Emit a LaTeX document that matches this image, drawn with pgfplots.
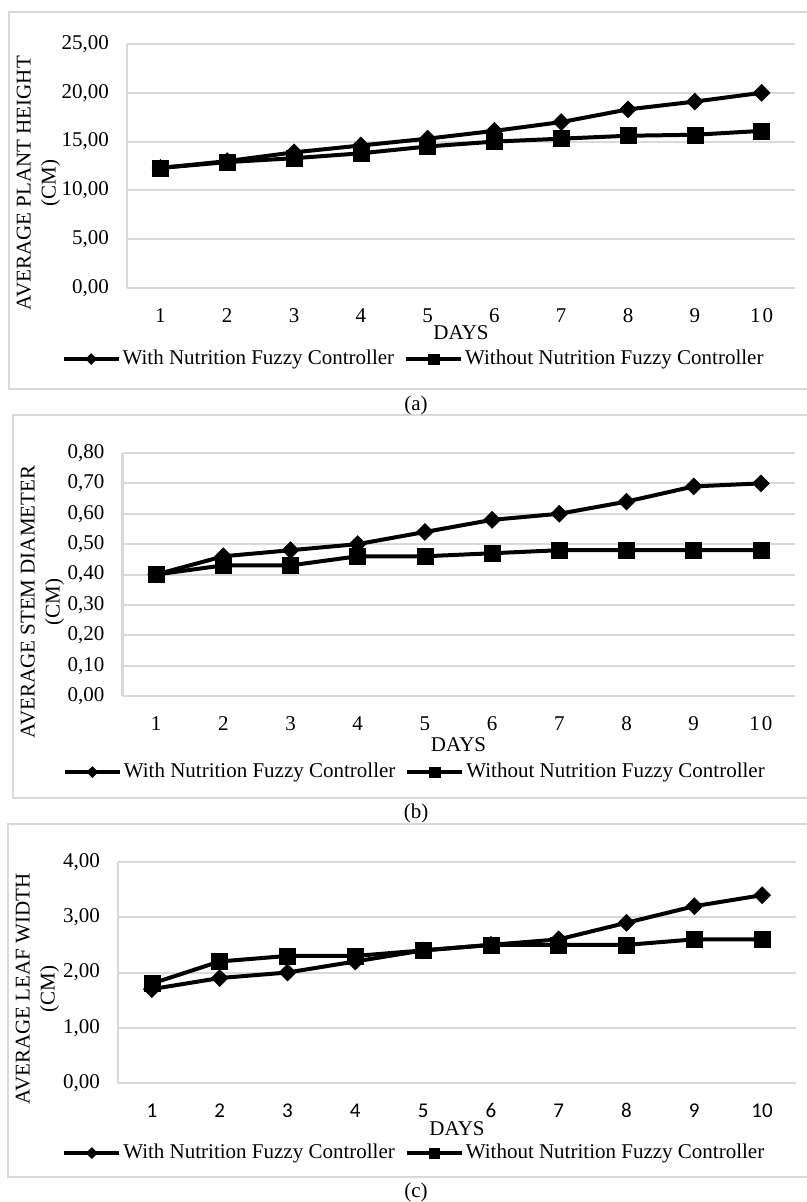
\documentclass[border=0pt]{standalone}
\usepackage{fontspec}
\setmainfont{Liberation Serif}
\newfontfamily\carlito{Carlito}
\usepackage{pgfplots}
\pgfplotsset{compat=1.18}
\definecolor{gridgray}{HTML}{D9D9D9}
\pgfplotsset{
  panel/.style={
    scale only axis,
    xmin=0.5, xmax=10.5,
    xtick={1,2,3,4,5,6,7,8,9,10},
    ymajorgrids,
    major grid style={draw=gridgray, line width=2bp},
    axis lines*=left,
    axis line style={draw=gridgray, line width=2bp},
    x axis line style={draw=none},
    tick style={draw=none},
    major tick length=0pt,
    yticklabel style={/pgf/number format/.cd, fixed, fixed zerofill, precision=2, use comma, assume math mode=true, /tikz/.cd, xshift=-11bp},
    xticklabel style={anchor=base, yshift=-34bp},
    clip=false,
    legend columns=2,
    legend style={draw=none, fill=none, font=\fontsize{21bp}{25bp}\selectfont, /tikz/every even column/.append style={column sep=8bp}},
    legend image code/.code={
      \draw[mark repeat=2, mark phase=2, #1, every mark/.append style={scale=0.65}] plot coordinates {(0bp,0bp) (27.5bp,0bp) (55bp,0bp)};
    },
    xlabel=DAYS,
    ylabel style={align=center, font=\fontsize{21bp}{25bp}\selectfont},
  },
  with/.style={black, line width=4bp, mark=square*, mark size=6bp, mark options={rotate=45, solid, fill=black, line width=0.5bp}},
  without/.style={black, line width=4bp, mark=square*, mark size=8bp, mark options={solid, fill=black, line width=0.5bp}},
}
\begin{document}
\fontsize{21bp}{25bp}\selectfont
\begin{tikzpicture}
\useasboundingbox (0,0) rectangle (807bp,-1202bp);
\draw[gridgray, line width=2bp] (9bp,-12bp) rectangle (815bp,-389bp);
\draw[gridgray, line width=2bp] (13bp,-415bp) rectangle (815bp,-798bp);
\draw[gridgray, line width=2bp] (8bp,-824bp) rectangle (815bp,-1177bp);
\node at (416bp,-405bp) {(a)};
\node at (416bp,-813bp) {(b)};
\node at (416bp,-1192bp) {(c)};

% (a)
\begin{axis}[panel, at={(127bp,-288bp)}, anchor=south west, width=668bp, height=244bp,
  ymin=0, ymax=25, ytick={0,5,10,15,20,25},
  xticklabels={1,2,3,4,5,6,7,8,9,1\hspace{2bp}0},
  ylabel={AVERAGE PLANT HEIGHT\\(CM)},
  ylabel style={at={(axis description cs:-0.1325,0.430)}, anchor=center},
  xlabel style={at={(axis description cs:0.5,-0.184)}, anchor=center},
  legend style={at={(axis description cs:0.429,-0.291)}, anchor=center}]
\addplot[with] coordinates {(1,12.3) (2,13.0) (3,13.9) (4,14.6) (5,15.3) (6,16.1) (7,17.0) (8,18.3) (9,19.1) (10,20.0)};
\addlegendentry{With Nutrition Fuzzy Controller}
\addplot[without] coordinates {(1,12.3) (2,12.9) (3,13.3) (4,13.8) (5,14.5) (6,15.0) (7,15.3) (8,15.6) (9,15.7) (10,16.1)};
\addlegendentry{Without Nutrition Fuzzy Controller}
\end{axis}

% (b)
\begin{axis}[panel, at={(122.5bp,-696bp)}, anchor=south west, width=672bp, height=243bp,
  ymin=0, ymax=0.8, ytick={0,0.1,0.2,0.3,0.4,0.5,0.6,0.7,0.8},
  xticklabels={1,2,3,4,5,6,7,8,9,1\hspace{2bp}0},
  ylabel={AVERAGE STEM DIAMETER\\(CM)},
  ylabel style={at={(axis description cs:-0.119,0.387)}, anchor=center},
  xlabel style={at={(axis description cs:0.5,-0.202)}, anchor=center},
  legend style={at={(axis description cs:0.435,-0.313)}, anchor=center}]
\addplot[with] coordinates {(1,0.40) (2,0.46) (3,0.48) (4,0.50) (5,0.54) (6,0.58) (7,0.60) (8,0.64) (9,0.69) (10,0.70)};
\addlegendentry{With Nutrition Fuzzy Controller}
\addplot[without] coordinates {(1,0.40) (2,0.43) (3,0.43) (4,0.46) (5,0.46) (6,0.47) (7,0.48) (8,0.48) (9,0.48) (10,0.48)};
\addlegendentry{Without Nutrition Fuzzy Controller}
\end{axis}

% (c)
\begin{axis}[panel, at={(118bp,-1083bp)}, anchor=south west, width=678bp, height=221bp,
  ymin=0, ymax=4, ytick={0,1,2,3,4},
  xticklabels={1,2,3,4,5,6,7,8,9,10},
  xticklabel style={font=\carlito\fontsize{21bp}{25bp}\selectfont},
  ylabel={AVERAGE LEAF WIDTH\\(CM)},
  ylabel style={at={(axis description cs:-0.119,0.425)}, anchor=center},
  xlabel style={at={(axis description cs:0.5,-0.208)}, anchor=center},
  legend style={at={(axis description cs:0.437,-0.317)}, anchor=center}]
\addplot[with] coordinates {(1,1.70) (2,1.90) (3,2.00) (4,2.20) (5,2.40) (6,2.50) (7,2.60) (8,2.90) (9,3.20) (10,3.40)};
\addlegendentry{With Nutrition Fuzzy Controller}
\addplot[without] coordinates {(1,1.80) (2,2.20) (3,2.30) (4,2.30) (5,2.40) (6,2.50) (7,2.50) (8,2.50) (9,2.60) (10,2.60)};
\addlegendentry{Without Nutrition Fuzzy Controller}
\end{axis}
\end{tikzpicture}
\end{document}
